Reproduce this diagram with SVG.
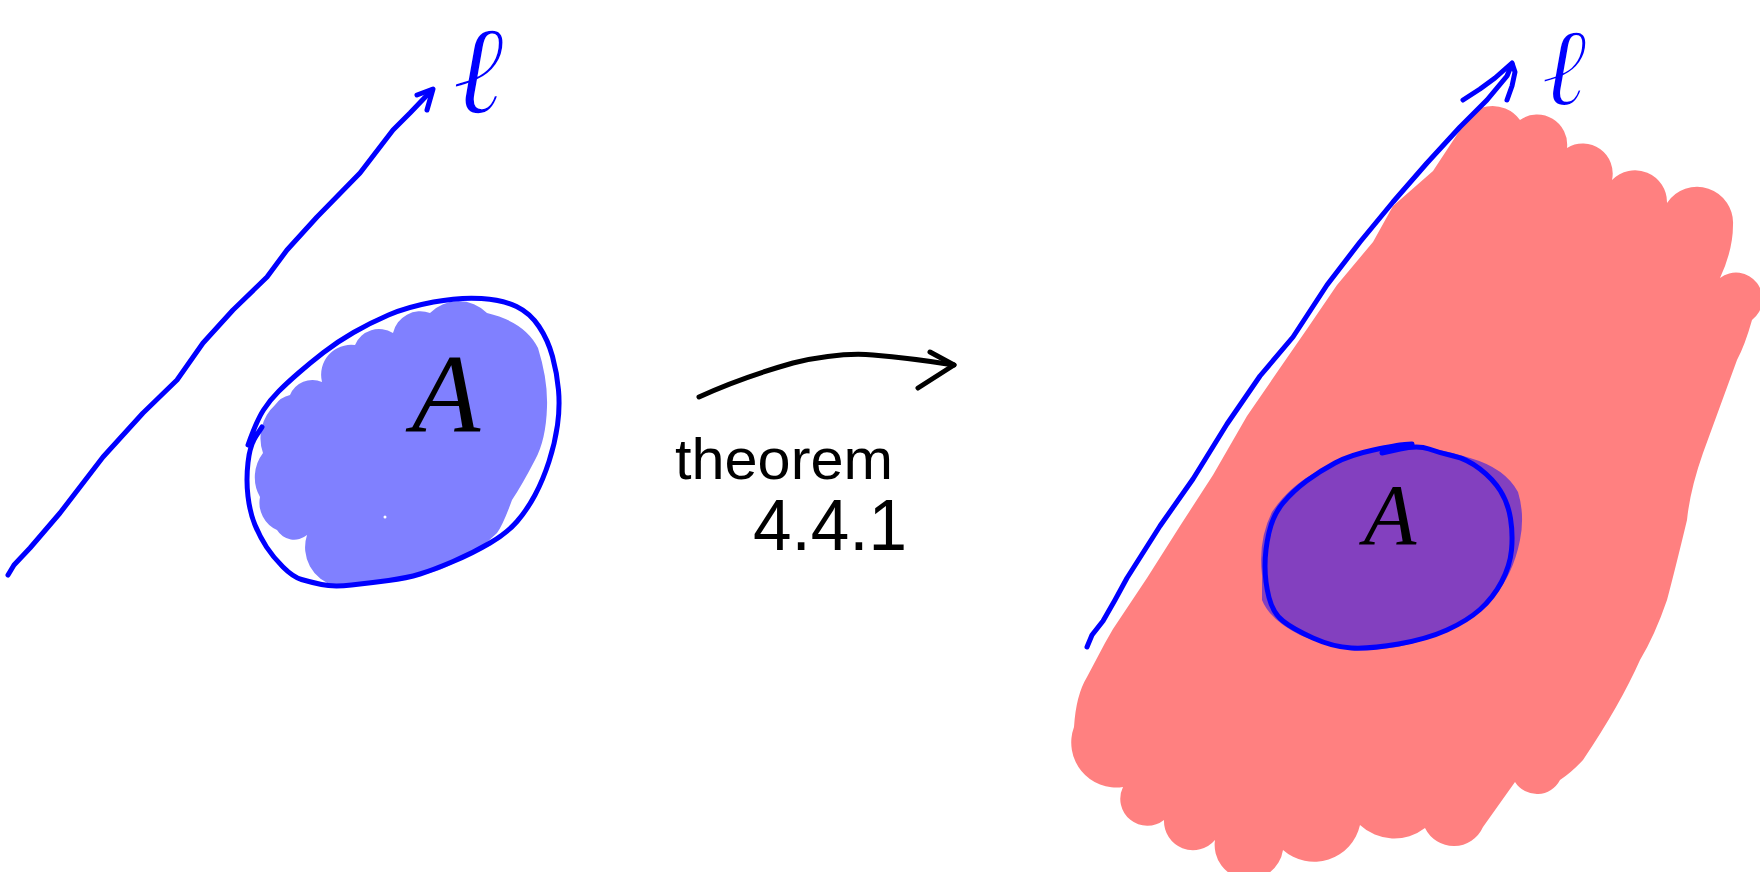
<svg xmlns="http://www.w3.org/2000/svg" width="1760" height="872" viewBox="0 0 1760 872">
<style>
.ink{fill:none;stroke:#0000ff;stroke-width:5;stroke-linecap:round;stroke-linejoin:round}
.blk{fill:none;stroke:#000;stroke-width:5;stroke-linecap:round;stroke-linejoin:round}
.lbl{font-family:"Liberation Serif",serif;font-style:italic;fill:#000}
.ell{font-family:"Liberation Serif","DejaVu Serif",serif;font-style:italic;fill:#0000ff;stroke:#fff;stroke-width:2;paint-order:fill stroke}
.hand{font-family:"Liberation Sans",sans-serif;fill:#000}
</style>
<rect width="1760" height="872" fill="#fff"/>
<g id="left-set">
<path fill="#8080ff" d="M307,535 A20,20 0 0 1 277,530 A30,30 0 0 1 260,497 A40,40 0 0 1 263,453 A45,45 0 0 1 275,405 A25,25 0 0 1 290,395 A24,24 0 0 1 322,382 A30,30 0 0 1 355,345 A26,26 0 0 1 393,333 A28,28 0 0 1 430,313 A40,40 0 0 1 487,313 Q525,322 538,348 Q548,380 547,407 Q546,440 535,460 Q522,485 512,500 Q503,525 497,533 Q480,550 460,560 Q440,572 420,575 L335,586 A40,40 0 0 1 307,535 Z"/>
<circle cx="385" cy="517" r="1.5" fill="#fff"/>
<path class="ink" d="M262,427 L256,436 Q250,445 248,462.5 Q246,480 248,496.5 Q250,513 255,525 Q260,537 266.5,547 Q273,557 283,567 Q293,577 301.5,579.5 Q310,582 321.5,584.5 Q333,587 351.5,585 Q370,583 388.5,580.5 Q407,578 420,574 Q433,570 453,561.5 Q473,553 490,543 Q507,533 517,521.5 Q527,510 535,495 Q543,480 549,461.5 Q555,443 557.5,425 Q560,407 558.5,390 Q557,373 552.5,356.5 Q548,340 539,326.5 Q530,313 516.5,306.5 Q503,300 481.5,298.5 Q460,297 433.5,302 Q407,307 388.5,315 Q370,323 353.5,332.5 Q337,342 323.5,352.5 Q310,363 298.5,373 Q287,383 278.5,391.5 Q270,400 263.5,410 Q257,420 248,445"/>
<text class="lbl" x="446" y="432" font-size="112" text-anchor="middle">A</text>
</g>
<g id="left-line">
<path class="ink" d="M8,575 L14,565 L30,548 L60,513 L103,457 L143,413 L177,380 L203,343 L233,310 L267,277 L287,250 L317,217 L360,173 L393,130 L410,113 L432,90"/>
<path class="ink" d="M417,95 L433,89 L427,110"/>
<text class="ell" x="478" y="113" font-size="125" text-anchor="middle">ℓ</text>
</g>
<g id="connectors">
<path class="blk" d="M699,397 Q740,378 793,363 Q840,352 873,355 Q910,358 954,365"/>
<path class="blk" d="M930,352 L954,365 L918,388"/>
</g>
<g id="theorem-label">
<text class="hand" x="675" y="479" font-size="58" textLength="218" lengthAdjust="spacingAndGlyphs">theorem</text>
<text class="hand" x="753" y="550" font-size="72" textLength="154" lengthAdjust="spacingAndGlyphs">4.4.1</text>
</g>
<g id="right-set">
<path fill="#ff8080" d="M1460,130 A34,34 0 0 1 1520,120 A30,30 0 0 1 1567,148 A30,30 0 0 1 1612,180 A32,32 0 0 1 1667,203 A36,36 0 0 1 1733,225 Q1733,250 1720,278 A26,26 0 0 1 1752,320 Q1745,345 1737,360 L1703,453 Q1690,490 1687,520 Q1675,570 1667,600 Q1655,635 1640,660 Q1620,705 1583,760 Q1572,772 1560,780 A26,26 0 0 1 1515,782 L1483,827 A32,32 0 0 1 1425,828 A50,50 0 0 1 1360,825 A47,47 0 0 1 1283,850 A29,29 0 0 1 1215,840 A29,29 0 0 1 1164,820 A27,27 0 0 1 1123,787 A45,45 0 0 1 1074,727 Q1076,695 1087,677 L1105,643 L1113,629 L1147,578 L1180,526 L1213,475 L1247,416 L1280,368 L1307,329 L1337,285 L1373,242 L1393,206 L1433,171 Z"/>
<path fill="#8340bf" d="M1262,575 Q1258,540 1272,512 Q1290,485 1320,470 Q1360,450 1400,445 Q1440,448 1470,458 Q1505,468 1518,492 Q1525,515 1520,540 Q1513,575 1493,598 Q1465,622 1427,639 Q1395,650 1370,649 Q1330,648 1300,635 Q1270,620 1262,600 Z"/>
<path class="ink" d="M1382,453 L1400,449 Q1418,445 1429,449 Q1440,453 1453.5,456 Q1467,459 1480,469 Q1493,479 1500.5,491 Q1508,503 1510.5,518.5 Q1513,534 1511.5,550 Q1510,566 1501.5,582 Q1493,598 1480,609.5 Q1467,621 1447,630 Q1427,639 1398.5,644 Q1370,649 1351.5,648 Q1333,647 1313,638 Q1293,629 1283,621 Q1273,613 1269,597.5 Q1265,582 1265,566 Q1265,550 1269,532.5 Q1273,515 1283,503 Q1293,491 1306.5,481 Q1320,471 1335,463 Q1350,455 1373.5,450 Q1397,445 1404.5,444.5 L1412,444"/>
<text class="lbl" x="1390" y="544" font-size="86" text-anchor="middle">A</text>
</g>
<g id="right-line">
<path class="ink" d="M1087,647 L1092,635 L1103,621 L1115,600 L1127,578 L1160,526 L1193,479 L1227,424 L1260,376 L1293,337 L1327,285 L1360,242 L1393,202 L1427,163 L1460,127 L1487,100 L1507,76 L1512,64"/>
<path class="ink" d="M1463,100 L1480,89 L1495,78 L1512,63 L1515,72 L1512,86 L1507,100"/>
<text class="ell" x="1564" y="105" font-size="110" text-anchor="middle">ℓ</text>
</g>
</svg>
